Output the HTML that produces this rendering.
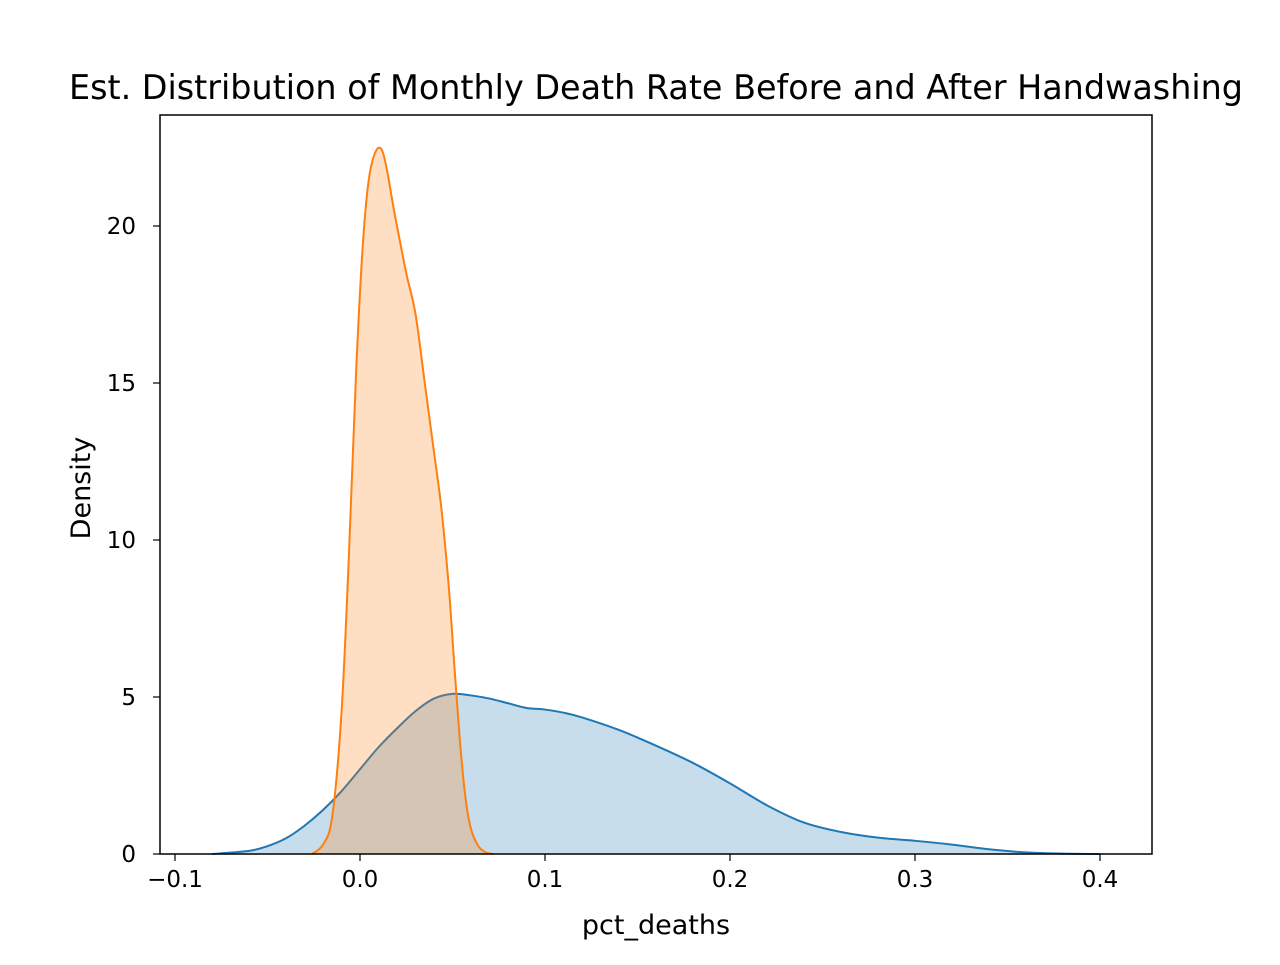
<!DOCTYPE html>
<html><head><meta charset="utf-8"><style>
body{margin:0;background:#fff;font-family:"Liberation Sans","DejaVu Sans",sans-serif}
</style></head><body>
<svg id="chart" width="1280" height="960" font-family="'DejaVu Sans', 'Liberation Sans', sans-serif">
<rect width="1280" height="960" fill="#fff"/>
<text x="656" y="99" text-anchor="middle" font-size="33.4">Est. Distribution of Monthly Death Rate Before and After Handwashing</text>
<g id="marks"></g>
<g id="axes"></g>
<rect x="160" y="115" width="992" height="739" fill="none" stroke="#000" stroke-width="1.5"/>
<text x="656" y="934" text-anchor="middle" font-size="27">pct_deaths</text>
<text transform="translate(90,488) rotate(-90)" text-anchor="middle" font-size="27">Density</text>
</svg>
<script>
const xTicks=[-0.1,0.0,0.1,0.2,0.3,0.4];
const xTickLabels=["\u22120.1","0.0","0.1","0.2","0.3","0.4"];
const yTicks=[0,5,10,15,20];
const yTickLabels=["0","5","10","15","20"];
const beforeX=[-0.08,-0.06,-0.05,-0.04,-0.03,-0.02,-0.01,0.0,0.01,0.02,0.03,0.04,0.05,0.06,0.07,0.08,0.09,0.1,0.11,0.12,0.14,0.16,0.18,0.2,0.22,0.24,0.26,0.28,0.3,0.32,0.34,0.36,0.38,0.4];
const beforeY=[0,0.1,0.25,0.5,0.9,1.4,2.0,2.7,3.4,4.0,4.55,4.95,5.1,5.05,4.95,4.8,4.65,4.6,4.5,4.35,3.95,3.45,2.9,2.25,1.55,1.0,0.7,0.52,0.42,0.3,0.15,0.05,0.01,0];
const afterX=[-0.026,-0.02,-0.015,-0.01,-0.006,-0.002,0.002,0.006,0.012,0.019,0.025,0.03,0.035,0.04,0.044,0.048,0.051,0.054,0.057,0.06,0.064,0.068,0.072];
const afterY=[0,0.3,1.2,4.5,9.5,15.5,19.8,21.9,22.4,20.3,18.5,17.2,15.0,12.8,11.0,8.5,6.0,3.6,1.8,0.8,0.25,0.05,0];
const sx=v=>360+v*1850, sy=v=>854-v*31.4;
const NS="http://www.w3.org/2000/svg";
const marks=document.getElementById('marks'), axes=document.getElementById('axes');
function mk(tag,attrs,parent){const e=document.createElementNS(NS,tag);for(const k in attrs)e.setAttribute(k,attrs[k]);parent.appendChild(e);return e;}
function pathD(xs,ys){const p=xs.map((x,i)=>[sx(x),sy(ys[i])]);let d='M'+p[0][0]+','+p[0][1];
for(let i=0;i<p.length-1;i++){const p0=p[i-1]||p[i],p1=p[i],p2=p[i+1],p3=p[i+2]||p2;
d+=' C'+(p1[0]+(p2[0]-p0[0])/6)+','+(p1[1]+(p2[1]-p0[1])/6)+' '+(p2[0]-(p3[0]-p1[0])/6)+','+(p2[1]-(p3[1]-p1[1])/6)+' '+p2[0]+','+p2[1];}return d;}
function series(xs,ys,col,name){const d=pathD(xs,ys);
const f=mk('path',{d:d+' L'+sx(xs[xs.length-1])+','+sy(0)+' L'+sx(xs[0])+','+sy(0)+'Z',fill:col,'fill-opacity':0.25,stroke:'none'},marks);


const l=mk('path',{d:d,fill:'none',stroke:col,'stroke-width':2},marks);

}
series(beforeX,beforeY,'#1f77b4','before-handwashing');
series(afterX,afterY,'#ff7f0e','after-handwashing');
xTicks.forEach((t,i)=>{const x=sx(t);mk('line',{x1:x,x2:x,y1:854,y2:861,stroke:'#000','stroke-width':1.2},axes);
const tx=mk('text',{x:x,y:887,'text-anchor':'middle','font-size':23},axes);tx.textContent=xTickLabels[i];

});
yTicks.forEach((t,i)=>{const y=sy(t);mk('line',{x1:153,x2:160,y1:y,y2:y,stroke:'#000','stroke-width':1.2},axes);
const tx=mk('text',{x:136,y:y+8,'text-anchor':'end','font-size':23},axes);tx.textContent=yTickLabels[i];

});
</script>
</body></html>
